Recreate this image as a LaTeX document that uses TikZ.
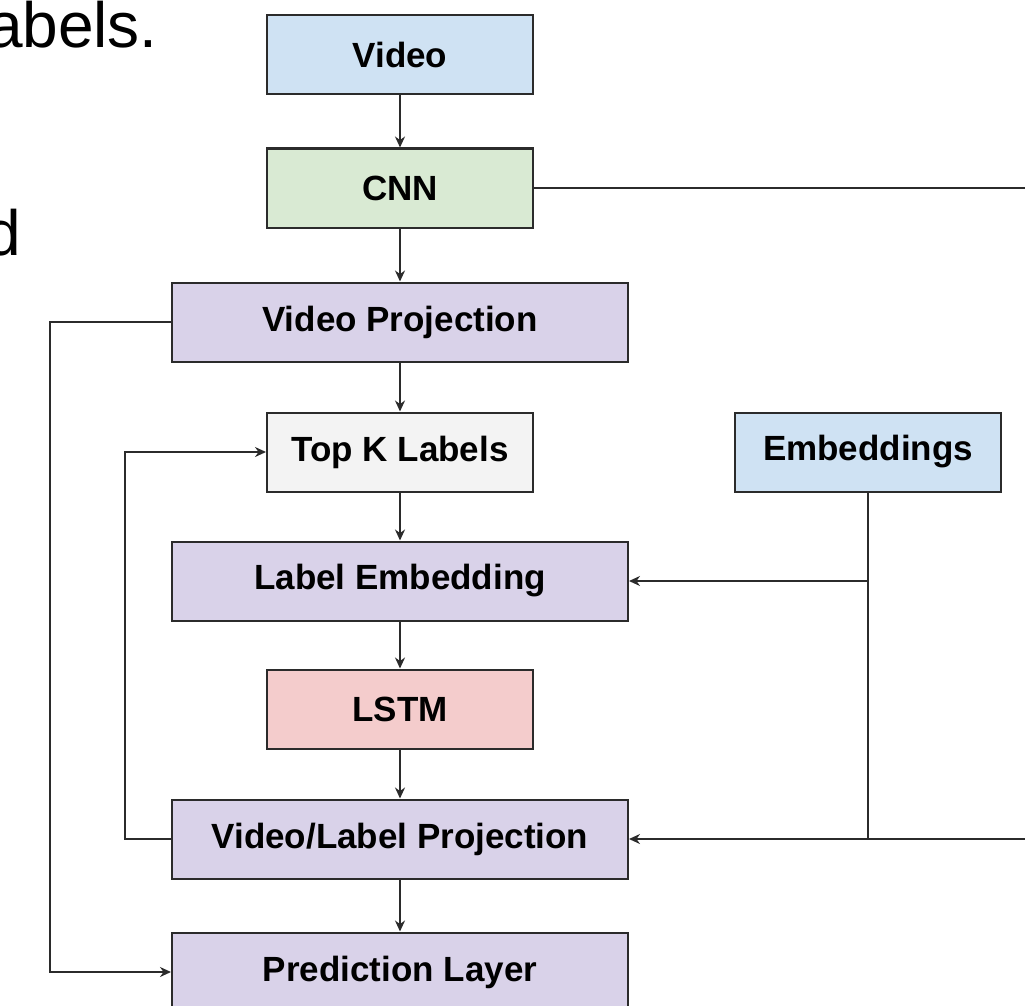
\documentclass[tikz,border=0pt]{standalone}
\usepackage{fontspec}
\setmainfont{Liberation Sans}
\usetikzlibrary{positioning,arrows.meta}
\definecolor{BoxBlue}{HTML}{CFE2F3}
\definecolor{BoxGreen}{HTML}{D9EAD3}
\definecolor{BoxPurple}{HTML}{D9D2E9}
\definecolor{BoxRed}{HTML}{F4CCCC}
\definecolor{BoxGray}{HTML}{F3F3F3}
\definecolor{LineGray}{HTML}{2B2B2B}
\newcommand{\boxfont}{\fontsize{35}{41}\selectfont\bfseries}
\newcommand{\slidefont}{\fontsize{64}{70}\selectfont}

\begin{document}
\begin{tikzpicture}[x=1pt, y=-1pt, node distance=49pt, every node/.style={align=center},
    block/.style={draw=LineGray, line width=2pt, minimum width=266pt, minimum height=79pt, inner sep=0pt, font=\boxfont},
    wideblock/.style={block, minimum width=456pt},
    wire/.style={LineGray, line width=2pt},
    link/.style={wire, -{Stealth[length=11pt, width=10pt]}}]
      \clip (0,0) rectangle (1025,1006);
      % Slide text behind the chart
      \node[anchor=base east, inner sep=0pt, font=\slidefont] (slidea) at (158,48) {abels.};
      \node[anchor=base east, inner sep=0pt, font=\slidefont] (slideb) at (21,255) {d};
      % Nodes
      \node[block, fill=BoxBlue] (video) at (400,55) {Video};
      \node[block, fill=BoxGreen, below=52pt of video] (cnn) {CNN};
      \node[wideblock, fill=BoxPurple, below=53pt of cnn] (vidproj) {Video Projection};
      \node[block, fill=BoxGray, below=of vidproj] (topk) {Top K Labels};
      \node[block, fill=BoxBlue, right=200pt of topk] (embed) {Embeddings};
      \node[wideblock, fill=BoxPurple, below=48pt of topk] (labemb) {Label Embedding};
      \node[block, fill=BoxRed, below=47pt of labemb] (lstm) {LSTM};
      \node[wideblock, fill=BoxPurple, below=49pt of lstm] (vlproj) {Video/Label Projection};
      \node[wideblock, fill=BoxPurple, below=52pt of vlproj] (pred) {Prediction Layer};
      % Helper coordinates
      \coordinate (outerleft) at (50,0);
      \coordinate (innerleft) at (125,0);
      \coordinate (rightend) at (1030,0);
      % Arrows
      \draw[link] (video) -- (cnn);
      \draw[link] (cnn) -- (vidproj);
      \draw[link] (vidproj) -- (topk);
      \draw[link] (topk) -- (labemb);
      \draw[link] (labemb) -- (lstm);
      \draw[link] (lstm) -- (vlproj);
      \draw[link] (vlproj) -- (pred);
      \draw[wire] (cnn.east) -- (cnn.east -| rightend);
      \draw[link] (vidproj.west) -- (vidproj.west -| outerleft) |- (pred.west);
      \draw[link] (vlproj.west) -- (vlproj.west -| innerleft) |- (topk.west);
      \draw[wire] (embed.south) -- (embed.south |- vlproj.east);
      \draw[link] (embed.south |- labemb.east) -- (labemb.east);
      \draw[link] (vlproj.east -| rightend) -- (vlproj.east);
    \end{tikzpicture}
\end{document}
